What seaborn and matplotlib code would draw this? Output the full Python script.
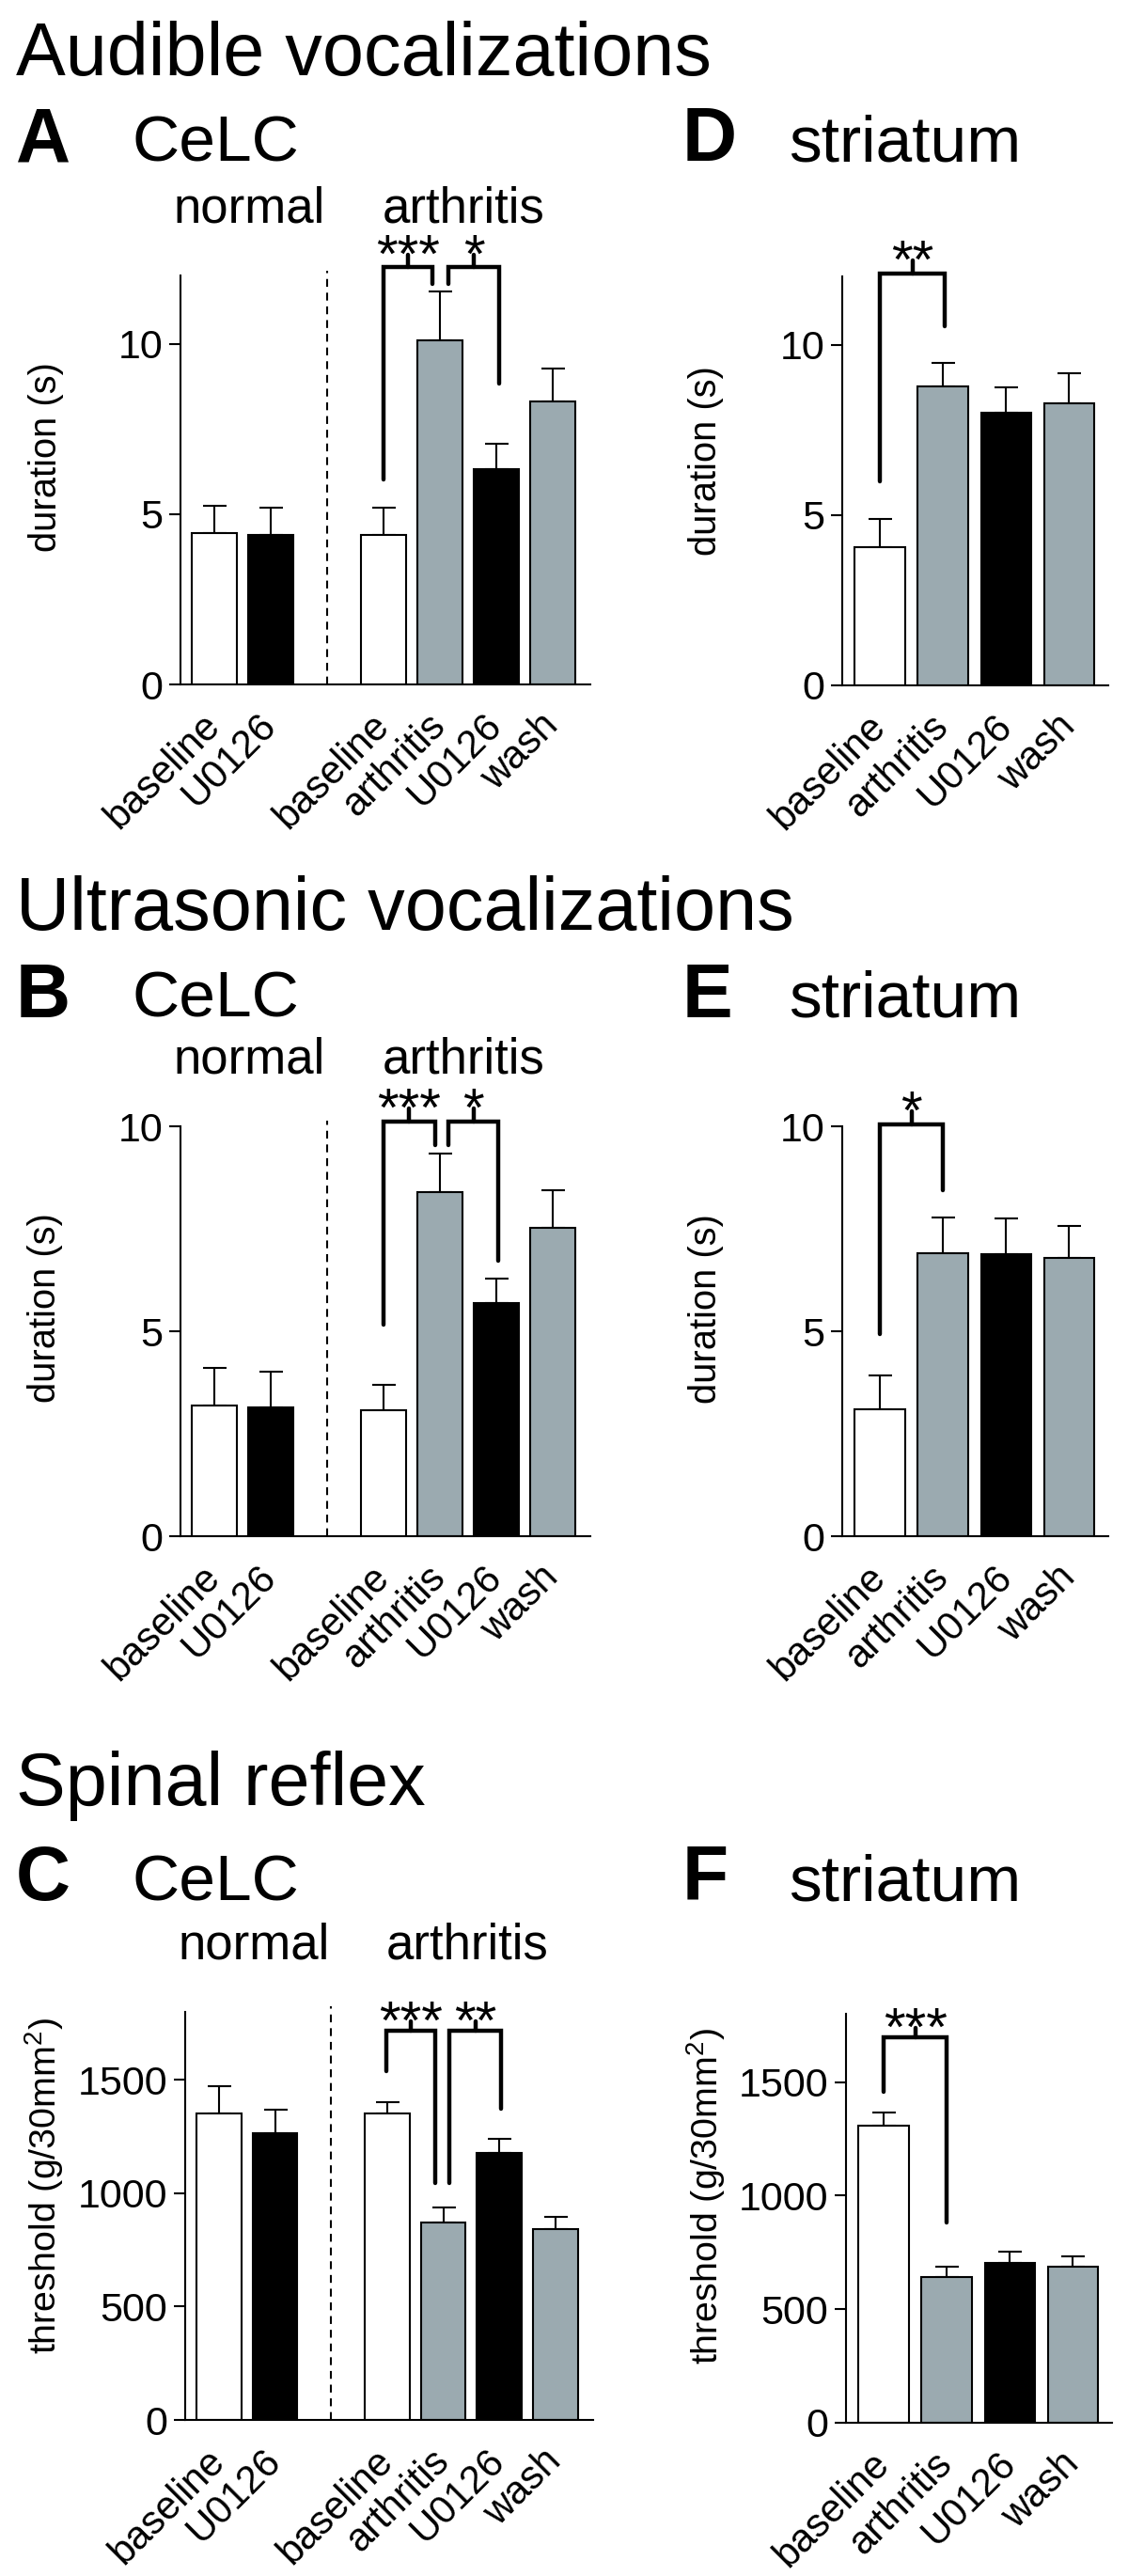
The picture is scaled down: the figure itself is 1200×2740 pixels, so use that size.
"""Audible / ultrasonic vocalizations and spinal reflex: CeLC vs striatum"""

import numpy as np
import matplotlib
matplotlib.use("Agg")
import matplotlib.pyplot as plt
import matplotlib.transforms as mtransforms
import seaborn as sns

GRAY = "#9BAAB0"

# --- data ---------------------------------------------------------------
celc_pos = [0, 1, 3, 4, 5, 6]
celc_labels = ["baseline", "U0126", "baseline", "arthritis", "U0126", "wash"]
celc_colors = ["white", "black", "white", GRAY, "black", GRAY]

str_pos = [0, 1, 2, 3]
str_labels = ["baseline", "arthritis", "U0126", "wash"]
str_colors = ["white", GRAY, "black", GRAY]

audible_celc_mean = [4.43, 4.38, 4.40, 10.10, 6.31, 8.29]
audible_celc_sem = [0.81, 0.81, 0.78, 1.42, 0.75, 0.98]
audible_str_mean = [4.06, 8.77, 8.01, 8.28]
audible_str_sem = [0.82, 0.70, 0.73, 0.89]

ultra_celc_mean = [3.18, 3.15, 3.07, 8.40, 5.69, 7.52]
ultra_celc_sem = [0.92, 0.87, 0.62, 0.94, 0.60, 0.93]
ultra_str_mean = [3.10, 6.91, 6.89, 6.78]
ultra_str_sem = [0.82, 0.86, 0.87, 0.78]

reflex_celc_mean = [1351, 1263, 1351, 873, 1178, 844]
reflex_celc_sem = [120, 105, 49, 66, 61, 51]
reflex_str_mean = [1306, 641, 704, 687]
reflex_str_sem = [59, 44, 49, 46]

W, H = 1200, 2740
sns.set_style("ticks")
plt.rcParams["font.family"] = ["Liberation Sans", "DejaVu Sans"]
plt.rcParams["mathtext.fontset"] = "custom"
plt.rcParams["mathtext.rm"] = "Liberation Sans"
plt.rcParams["mathtext.default"] = "regular"
for key in ["text.color", "axes.labelcolor", "axes.edgecolor", "xtick.color", "ytick.color"]:
    plt.rcParams[key] = "black"

fig = plt.figure(figsize=(W / 100, H / 100), dpi=100)


def px_axes(left, top, right, bottom):
    return fig.add_axes([left / W, 1 - bottom / H, (right - left) / W, (bottom - top) / H])


def ftext(x, y, s, **kw):
    return fig.text(x / W, 1 - y / H, s, **kw)


def draw_bars(ax, pos, labels, means, sems, colors, ylim, yticks, xlim):
    sns.barplot(x=pos, y=means, native_scale=True, ax=ax, width=0.8, color="white",
                edgecolor="black", linewidth=1.5, errorbar=None)
    for patch, c in zip(ax.patches, colors):
        patch.set_facecolor(c)
    ax.errorbar(pos, means, yerr=[np.zeros(len(sems)), sems], fmt="none", ecolor="black",
                elinewidth=1.5, capsize=9, capthick=1.5, zorder=0.9)
    ax.set_xlim(*xlim)
    ax.set_ylim(*ylim)
    ax.set_yticks(yticks)
    ax.set_xticks(pos)
    ax.set_xticklabels(labels, rotation=45, ha="right", va="center", rotation_mode="anchor")
    ax.tick_params(axis="y", direction="out", length=8.5, width=1.5, pad=5, labelsize=31)
    ax.tick_params(axis="x", length=0, pad=27, labelsize=30)
    sns.despine(ax=ax)
    for side in ["left", "bottom"]:
        ax.spines[side].set_linewidth(1.5)
    ax.set_xlabel("")
    ax.set_ylabel("")


def bracket(ax, x0, x1, ytop, y0, y1, tick, stars):
    kw = dict(color="black", lw=3.2, clip_on=False, solid_joinstyle="miter", solid_capstyle="round")
    ax.plot([x0, x0, x1, x1], [y0, ytop, ytop, y1], **kw)
    xm = (x0 + x1) / 2
    ax.plot([xm, xm], [ytop, tick], **kw)
    ax.annotate(stars, xy=(xm, tick), xytext=(0, -13.5), textcoords="offset points",
                ha="center", va="baseline", fontsize=42, annotation_clip=False)


def groups(ax, y_frac=1.13):
    tr = mtransforms.blended_transform_factory(ax.transData, ax.transAxes)
    ax.text(0.62, y_frac, "normal", transform=tr, ha="center", va="baseline", fontsize=38)
    ax.text(4.42, y_frac, "arthritis", transform=tr, ha="center", va="baseline", fontsize=38)


celc_xlim = (-0.6, 6.67)
str_xlim = (-0.6, 3.62)

# --- row 1: audible ---
axA = px_axes(192, 293, 628, 728)
draw_bars(axA, celc_pos, celc_labels, audible_celc_mean, audible_celc_sem, celc_colors,
          (0, 12), [0, 5, 10], celc_xlim)
axA.plot([2, 2], [0, 12.15], color="black", lw=1.5, ls=(0, (4, 3)), clip_on=False)
bracket(axA, 3.0, 3.87, 12.25, 6.02, 11.74, 12.62, "***")
bracket(axA, 4.15, 5.06, 12.25, 11.74, 8.83, 12.62, "*")
groups(axA)

axD = px_axes(896, 294, 1179, 729)
draw_bars(axD, str_pos, str_labels, audible_str_mean, audible_str_sem, str_colors,
          (0, 12), [0, 5, 10], str_xlim)
bracket(axD, 0.0, 1.03, 12.08, 6.0, 10.54, 12.47, "**")

# --- row 2: ultrasonic ---
axB = px_axes(192, 1198, 628, 1634)
draw_bars(axB, celc_pos, celc_labels, ultra_celc_mean, ultra_celc_sem, celc_colors,
          (0, 10), [0, 5, 10], celc_xlim)
axB.plot([2, 2], [0, 10.13], color="black", lw=1.5, ls=(0, (4, 3)), clip_on=False)
bracket(axB, 3.0, 3.92, 10.11, 5.17, 9.54, 10.44, "***")
bracket(axB, 4.16, 5.03, 10.11, 9.54, 6.73, 10.44, "*")
groups(axB)

axE = px_axes(896, 1198, 1179, 1634)
draw_bars(axE, str_pos, str_labels, ultra_str_mean, ultra_str_sem, str_colors,
          (0, 10), [0, 5, 10], str_xlim)
bracket(axE, 0.0, 1.0, 10.04, 4.94, 8.44, 10.37, "*")

# --- row 3: spinal reflex ---
axC = px_axes(197, 2140, 631, 2574)
draw_bars(axC, celc_pos, celc_labels, reflex_celc_mean, reflex_celc_sem, celc_colors,
          (0, 1800), [0, 500, 1000, 1500], celc_xlim)
axC.plot([2, 2], [0, 1824], color="black", lw=1.5, ls=(0, (4, 3)), clip_on=False)
bracket(axC, 2.99, 3.85, 1715, 1537, 1044, 1759, "***")
bracket(axC, 4.11, 5.03, 1715, 1044, 1374, 1759, "**")
groups(axC)

axF = px_axes(900, 2142, 1183, 2577)
draw_bars(axF, str_pos, str_labels, reflex_str_mean, reflex_str_sem, str_colors,
          (0, 1800), [0, 500, 1000, 1500], str_xlim)
bracket(axF, 0.0, 1.0, 1695, 1457, 880, 1739, "***")

# --- titles, panel letters, y labels ---
for y, title in zip([80, 989, 1920], ["Audible vocalizations", "Ultrasonic vocalizations", "Spinal reflex"]):
    ftext(17, y, title, fontsize=57, va="baseline", ha="left")

for y, (left, right) in zip([171, 1082, 2021], [("A", "D"), ("B", "E"), ("C", "F")]):
    ftext(17, y, left, fontsize=58, fontweight="bold", va="baseline", ha="left")
    ftext(140, y, "CeLC", fontsize=50, va="baseline", ha="left")
    ftext(726, y, right, fontsize=58, fontweight="bold", va="baseline", ha="left")
    ftext(839, y, "striatum", fontsize=50, va="baseline", ha="left")

ylab_kw = dict(rotation=90, ha="center", va="center", fontsize=29)
ylabels = [
    (ftext(49, 486, "duration (s)", **ylab_kw), 202),
    (ftext(751, 490, "duration (s)", **ylab_kw), 202),
    (ftext(48, 1391, "duration (s)", **ylab_kw), 202),
    (ftext(751, 1392, "duration (s)", **ylab_kw), 202),
    (ftext(47, 2325, "threshold (g/30mm$^{2}$)", **ylab_kw), 358),
    (ftext(751, 2336, "threshold (g/30mm$^{2}$)", **ylab_kw), 358),
]

# size the rotated labels so their length matches the original figure
fig.canvas.draw()
renderer = fig.canvas.get_renderer()
for t, target in ylabels:
    length = t.get_window_extent(renderer).height
    t.set_fontsize(t.get_fontsize() * target / length)

fig.savefig("out.png", dpi=100)
